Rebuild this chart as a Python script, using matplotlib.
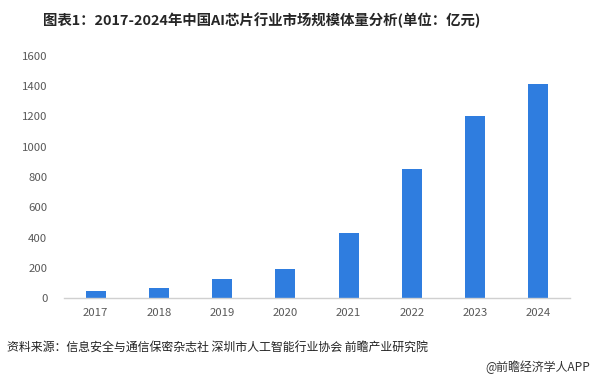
import matplotlib
matplotlib.use("Agg")
import matplotlib.pyplot as plt

plt.rcParams['font.family'] = ['Noto Sans CJK SC', 'DejaVu Sans']

years = ["2017", "2018", "2019", "2020", "2021", "2022", "2023", "2024"]
values = [48, 68, 126, 192, 427, 850, 1206, 1412]
yticks = [0, 200, 400, 600, 800, 1000, 1200, 1400, 1600]

W, H = 592, 381
fig = plt.figure(figsize=(W / 100, H / 100), dpi=100)
ax = fig.add_axes([64 / W, 1 - 298 / H, (570 - 64) / W, (298 - 56) / H])

x = list(range(len(years)))
ax.bar(x, values, width=0.32, color='#2f7ddf', zorder=2)
ax.set_xlim(-0.5, len(years) - 0.5)
ax.set_ylim(0, 1600)
ax.set_yticks(yticks)
ax.set_yticklabels([str(v) for v in yticks])
ax.set_xticks(x)
ax.set_xticklabels(years)
for s in ['top', 'right', 'left']:
    ax.spines[s].set_visible(False)
ax.spines['bottom'].set_color('#d0d0d0')
ax.spines['bottom'].set_linewidth(1.0)
ax.tick_params(axis='both', length=0, labelsize=8.2, colors='#595959')
ax.tick_params(axis='y', pad=12)
ax.tick_params(axis='x', pad=7)

fig.text(262 / W, 1 - 20 / H, "图表1：2017-2024年中国AI芯片行业市场规模体量分析(单位：亿元)",
         ha='center', va='center', fontsize=10.4, fontweight='bold', color='#262626')
fig.text(7 / W, 1 - 348 / H, "资料来源：信息安全与通信保密杂志社 深圳市人工智能行业协会 前瞻产业研究院",
         ha='left', va='center', fontsize=8.6, color='#222222')
fig.text(590 / W, 1 - 367 / H, "@前瞻经济学人APP",
         ha='right', va='center', fontsize=8.6, color='#333333')

fig.savefig("out.png", dpi=100)
